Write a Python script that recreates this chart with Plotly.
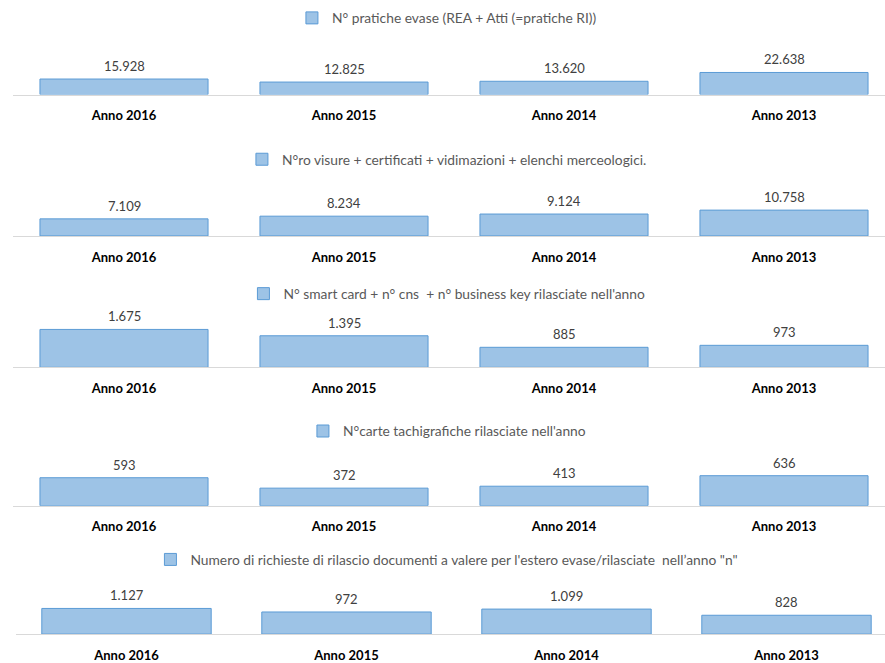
import plotly.graph_objects as go

# Categories (years) shown on every panel
years = ["Anno 2016", "Anno 2015", "Anno 2014", "Anno 2013"]

# Series values, one per panel
pratiche_evase = [15928, 12825, 13620, 22638]
visure_certificati = [7109, 8234, 9124, 10758]
smart_card_cns_bk = [1675, 1395, 885, 973]
carte_tachigrafiche = [593, 372, 413, 636]
documenti_estero = [1127, 972, 1099, 828]

# Legend labels
series_names = [
    "N° pratiche evase (REA + Atti (=pratiche RI))",
    "N°ro visure + certificati + vidimazioni + elenchi merceologici.",
    "N° smart card + n° cns  + n° business key rilasciate nell'anno",
    "N°carte tachigrafiche rilasciate nell'anno",
    "Numero di richieste di rilascio documenti a valere per l'estero evase/rilasciate  nell’anno \"n\"",
]

series_values = [pratiche_evase, visure_certificati, smart_card_cns_bk,
                 carte_tachigrafiche, documenti_estero]

W, H = 885, 663
FONT = "Lato"
BAR_FILL = "#9DC3E6"
BAR_LINE = "#5B9BD5"

# Panel geometry (pixels): baseline y, legend y, units per pixel, first category centre, axis start
panels = [
    dict(base=95, leg=18, upp=1020, c0=124, x0=13, bw=0.764),
    dict(base=237, leg=160, upp=415, c0=124, x0=13, bw=0.764),
    dict(base=369, leg=295, upp=44, c0=124, x0=13, bw=0.764),
    dict(base=508, leg=433, upp=21.1, c0=124, x0=13, bw=0.764),
    dict(base=637, leg=562, upp=43.7, c0=126.5, x0=16, bw=0.77),
]
STEP = 220   # pixels between category centres
PANEL_H = 50  # plot height in pixels above the baseline


def fmt(v):
    return f"{v:,}".replace(",", ".")


fig = go.Figure()
layout = dict(
    width=W, height=H,
    margin=dict(l=0, r=0, t=0, b=0),
    paper_bgcolor="white", plot_bgcolor="white",
    showlegend=True,
    annotations=[],
)

for i, (name, vals, p) in enumerate(zip(series_names, series_values, panels), start=1):
    sfx = "" if i == 1 else str(i)
    xa, ya = f"x{sfx}", f"y{sfx}"
    leg = "legend" if i == 1 else f"legend{i}"

    fig.add_trace(go.Bar(
        x=years, y=vals, name=name,
        xaxis=xa, yaxis=ya, legend=leg,
        width=p["bw"],
        marker=dict(color=BAR_FILL, line=dict(color=BAR_LINE, width=1)),
        hoverinfo="x+y",
        showlegend=True,
    ))

    left = (p["x0"] - p["c0"]) / STEP
    right = (W - p["c0"]) / STEP
    layout[f"xaxis{sfx}"] = dict(
        domain=[p["x0"] / W, 1],
        anchor=ya,
        type="category",
        range=[left, right],
        showline=True, linecolor="#D9D9D9", linewidth=1,
        showgrid=False, zeroline=False, ticks="",
        tickfont=dict(family=FONT, size=13, color="#000000", weight="bold"),
        ticklabelstandoff=9,
    )
    ymax = PANEL_H * p["upp"]
    layout[f"yaxis{sfx}"] = dict(
        domain=[1 - p["base"] / H, 1 - (p["base"] - PANEL_H) / H],
        anchor=xa,
        range=[0, ymax],
        visible=False, showgrid=False, zeroline=False,
    )
    layout[leg] = dict(
        x=0.505, xanchor="center",
        y=1 - p["leg"] / H, yanchor="middle",
        bgcolor="rgba(0,0,0,0)",
        font=dict(family=FONT, size=13.8, color="#595959"),
        itemwidth=30,
    )
    for cat, v in zip(years, vals):
        layout["annotations"].append(dict(
            x=cat, y=v, xref=xa, yref=ya,
            text=fmt(v), showarrow=False,
            yanchor="bottom", yshift=3,
            font=dict(family=FONT, size=13, color="#404040"),
        ))

fig.update_layout(**layout)
fig.write_html("out.html")
